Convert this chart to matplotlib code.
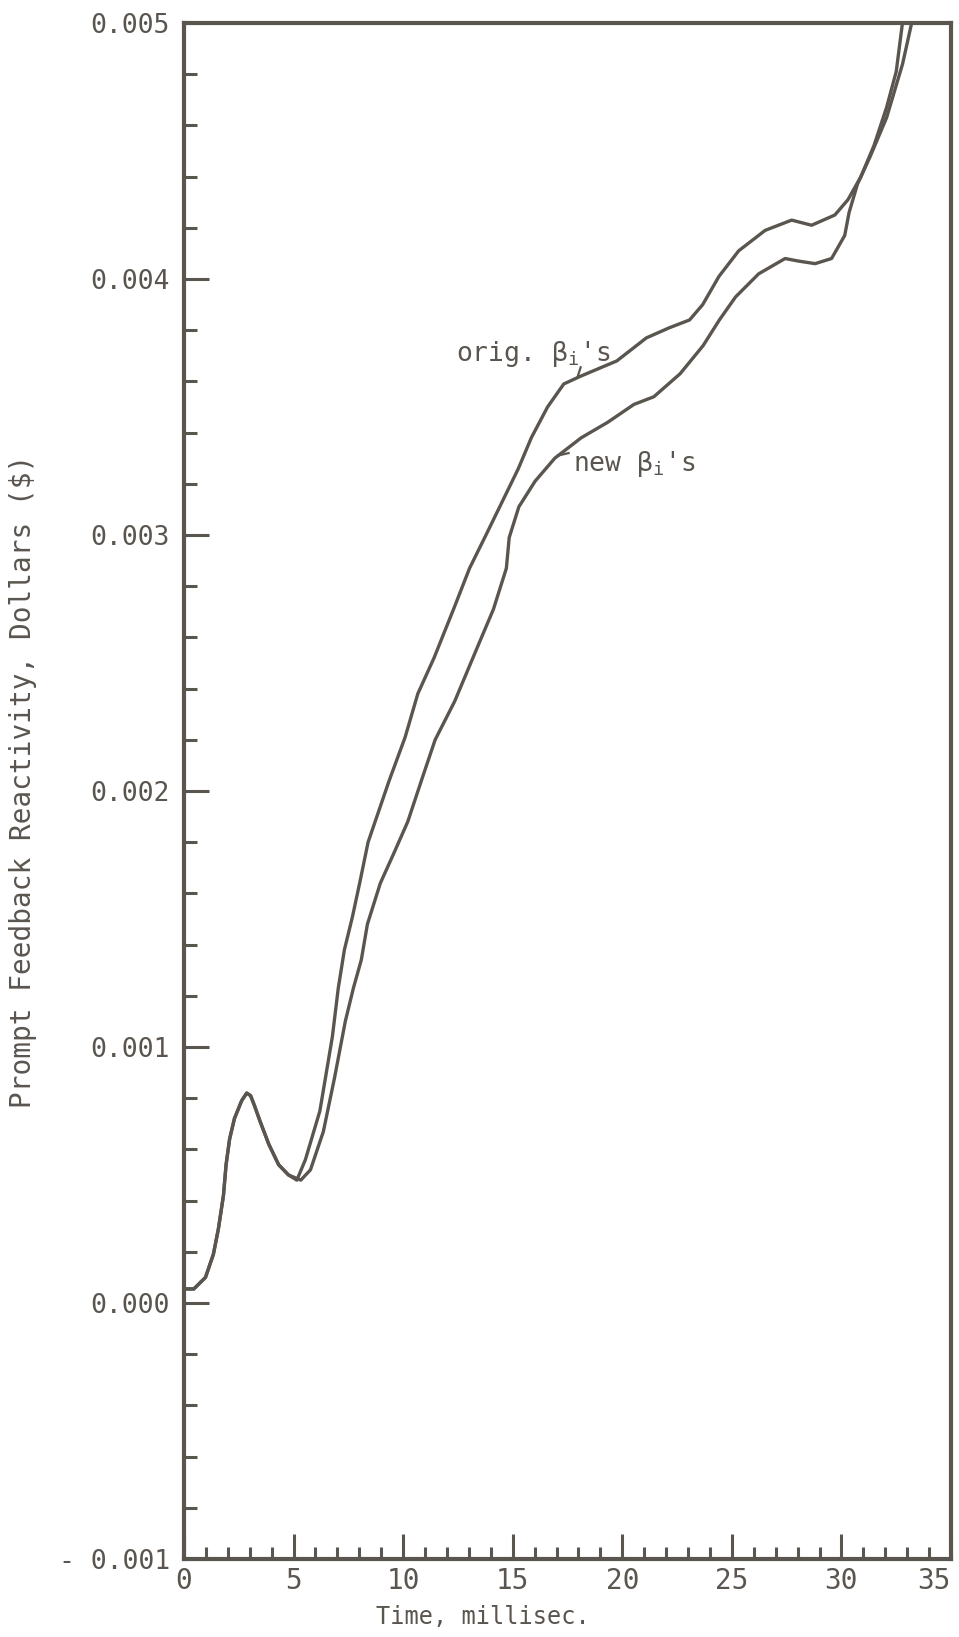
import numpy as np
import matplotlib.pyplot as plt
from matplotlib.ticker import MultipleLocator, FuncFormatter

# time in millisec, reactivity in dollars
t_orig = [0.05, 0.45, 0.98, 1.34, 1.57, 1.80, 1.92, 2.08, 2.30, 2.63, 2.86,
          3.04, 3.22, 3.47, 3.87, 4.32, 4.77, 5.15, 5.54, 6.20, 6.77, 7.04,
          7.32, 7.69, 8.04, 8.40, 8.92, 9.36, 10.09, 10.67, 11.41, 12.30, 13.03,
          13.78, 14.52, 15.26, 15.85, 16.59, 17.33, 18.09, 19.75, 21.10, 22.16,
          23.07, 23.67, 24.41, 25.31, 26.52, 27.73, 28.64, 29.70, 30.30, 30.89,
          31.48, 32.06, 32.50, 32.80]
rho_orig = [0.055, 0.055, 0.10, 0.19, 0.29, 0.42, 0.54, 0.64, 0.72, 0.79, 0.82,
            0.81, 0.77, 0.71, 0.62, 0.54, 0.50, 0.48, 0.56, 0.75, 1.04, 1.23,
            1.38, 1.51, 1.65, 1.80, 1.93, 2.04, 2.21, 2.38, 2.52, 2.71, 2.87,
            3.00, 3.13, 3.26, 3.38, 3.50, 3.59, 3.62, 3.68, 3.77, 3.81, 3.84,
            3.90, 4.01, 4.11, 4.19, 4.23, 4.21, 4.25, 4.31, 4.40, 4.52, 4.67,
            4.81, 5.01]

t_new = [0.05, 0.45, 0.98, 1.34, 1.57, 1.80, 1.92, 2.08, 2.30, 2.63, 2.86,
         3.04, 3.22, 3.47, 3.87, 4.32, 4.77, 5.33, 5.77, 6.36, 6.87, 7.36, 7.73,
         8.09, 8.37, 8.96, 9.54, 10.21, 10.87, 11.46, 12.35, 13.38, 14.12, 14.71,
         14.84, 15.28, 16.02, 16.92, 18.13, 19.33, 20.53, 21.44, 22.64, 23.69,
         24.43, 25.17, 26.22, 27.43, 28.04, 28.80, 29.55, 30.15, 30.35, 30.73,
         31.32, 32.06, 32.79, 33.23]
rho_new = [0.055, 0.055, 0.10, 0.19, 0.29, 0.42, 0.54, 0.64, 0.72, 0.79, 0.82,
           0.81, 0.77, 0.71, 0.62, 0.54, 0.50, 0.48, 0.52, 0.67, 0.88, 1.10,
           1.23, 1.34, 1.48, 1.64, 1.75, 1.88, 2.05, 2.20, 2.35, 2.56, 2.71,
           2.87, 2.99, 3.11, 3.21, 3.30, 3.38, 3.44, 3.51, 3.54, 3.63, 3.74,
           3.84, 3.93, 4.02, 4.08, 4.07, 4.06, 4.08, 4.17, 4.26, 4.37, 4.48,
           4.63, 4.84, 5.01]

rho_orig = np.array(rho_orig) * 1e-3
rho_new = np.array(rho_new) * 1e-3

ink = '#5a554f'
plt.rcParams['font.family'] = 'DejaVu Sans Mono'
plt.rcParams['mathtext.fontset'] = 'custom'
plt.rcParams['mathtext.rm'] = 'DejaVu Sans Mono'
plt.rcParams['mathtext.it'] = 'DejaVu Sans Mono'
plt.rcParams['text.color'] = ink

fig = plt.figure(figsize=(9.59, 16.37), dpi=100)
ax = fig.add_axes([184 / 959, 1 - 1559 / 1637, (951 - 184) / 959, (1559 - 23) / 1637])

ax.plot(t_orig, rho_orig, color=ink, lw=2.4, solid_joinstyle='round')
ax.plot(t_new, rho_new, color=ink, lw=2.4, solid_joinstyle='round')

ax.set_xlim(0, 35)
ax.set_ylim(-0.001, 0.005)

for s in ax.spines.values():
    s.set_color(ink)
    s.set_linewidth(3)

ax.xaxis.set_major_locator(MultipleLocator(5))
ax.xaxis.set_minor_locator(MultipleLocator(1))
ax.yaxis.set_major_locator(MultipleLocator(0.001))
ax.yaxis.set_minor_locator(MultipleLocator(0.0002))

def yfmt(v, pos):
    if v < -1e-9:
        return '- %.3f' % abs(v)
    return '%.3f' % abs(v)

def xfmt(v, pos):
    # last label is drawn separately so it stays inside the figure
    if v > 34.5:
        return ''
    return '%d' % round(v)

ax.yaxis.set_major_formatter(FuncFormatter(yfmt))
ax.xaxis.set_major_formatter(FuncFormatter(xfmt))
ax.tick_params(axis='both', which='both', direction='in', color=ink, width=2.2,
               labelcolor=ink, top=False, right=False)
ax.tick_params(axis='y', which='major', length=18, pad=10, labelsize=19)
ax.tick_params(axis='y', which='minor', length=9)
ax.tick_params(axis='x', which='major', length=18, pad=6, labelsize=20)
ax.tick_params(axis='x', which='minor', length=9)

ax.annotate('35', xy=(35, 0), xycoords=('data', 'axes fraction'),
            xytext=(0, -6), textcoords='offset points', ha='right', va='top',
            fontsize=20, color=ink)

ax.text(12.40, 3.68e-3, r"orig. $\mathrm{\beta}_\mathrm{i}$'s", fontsize=19,
        va='baseline', ha='left', color=ink)
ax.plot([17.95, 18.10], [3.615e-3, 3.655e-3], color=ink, lw=1.6)
ax.text(17.75, 3.25e-3, r"new $\mathrm{\beta}_\mathrm{i}$'s", fontsize=19,
        va='baseline', ha='left', color=ink)
ax.plot([17.05, 17.55], [3.31e-3, 3.32e-3], color=ink, lw=1.6)

fig.text(483 / 959, 1 - 1617 / 1637, 'Time, millisec.', fontsize=17,
         ha='center', va='center', color=ink)
fig.text(23 / 959, 1 - 781 / 1637, 'Prompt Feedback Reactivity, Dollars ($)',
         fontsize=20, rotation=90, ha='center', va='center', color=ink)

fig.savefig('out.png', dpi=100, facecolor='white')
